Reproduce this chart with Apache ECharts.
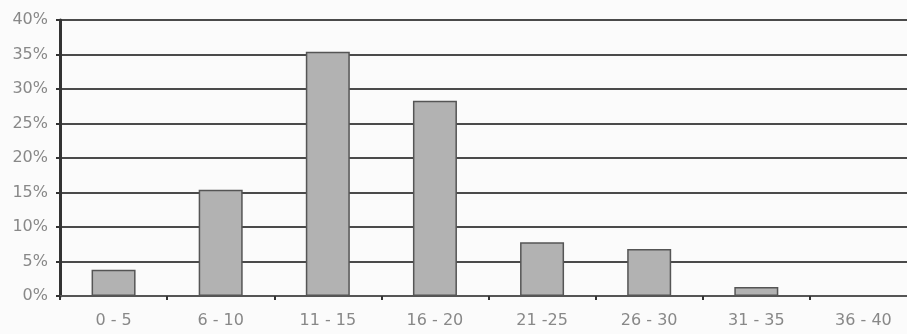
<!DOCTYPE html>
<html>
<head>
<meta charset="utf-8">
<script src="https://cdn.jsdelivr.net/npm/echarts@6/dist/echarts.min.js"></script>
<style>
  html, body { margin: 0; padding: 0; background: #fbfbfb; overflow: hidden; }
  #main { width: 920px; height: 334px; }
</style>
</head>
<body>
<div id="main"></div>
<script>
var categories = ['0 - 5', '6 - 10', '11 - 15', '16 - 20', '21 -25', '26 - 30', '31 - 35', '36 - 40'];
var shares = [3.8, 15.4, 35.4, 28.3, 7.8, 6.8, 1.3, 0];
var yTicks = [0, 5, 10, 15, 20, 25, 30, 35, 40];

// plot runs a little past the right edge of the window, like the scanned original
var myChart = echarts.init(document.getElementById('main'));
myChart.setOption({
  backgroundColor: '#fbfbfb',
  animation: false,
  grid: { left: 60, right: 3, top: 20, bottom: 38 },
  xAxis: {
    type: 'category',
    data: categories,
    axisLine: { lineStyle: { color: '#555', width: 2 } },
    axisTick: { show: true, length: 4, lineStyle: { color: '#333', width: 2 } },
    axisLabel: { color: '#888', fontSize: 16, fontFamily: 'DejaVu Sans', margin: 17 }
  },
  yAxis: {
    type: 'value',
    min: yTicks[0],
    max: yTicks[yTicks.length - 1],
    interval: 5,
    axisLine: { show: true, lineStyle: { color: '#333', width: 3 } },
    axisTick: { show: true, length: 4, lineStyle: { color: '#333', width: 2 } },
    axisLabel: { color: '#888', fontSize: 16, fontFamily: 'DejaVu Sans', margin: 12,
      formatter: function (v) { return v + '%'; } },
    splitLine: { lineStyle: { color: '#4a4a4a', width: 2 } }
  },
  series: [{
    type: 'bar',
    data: shares,
    barWidth: 44,
    itemStyle: { color: '#b2b2b2', borderColor: '#555', borderWidth: 1.5 }
  }]
});
</script>
</body>
</html>
